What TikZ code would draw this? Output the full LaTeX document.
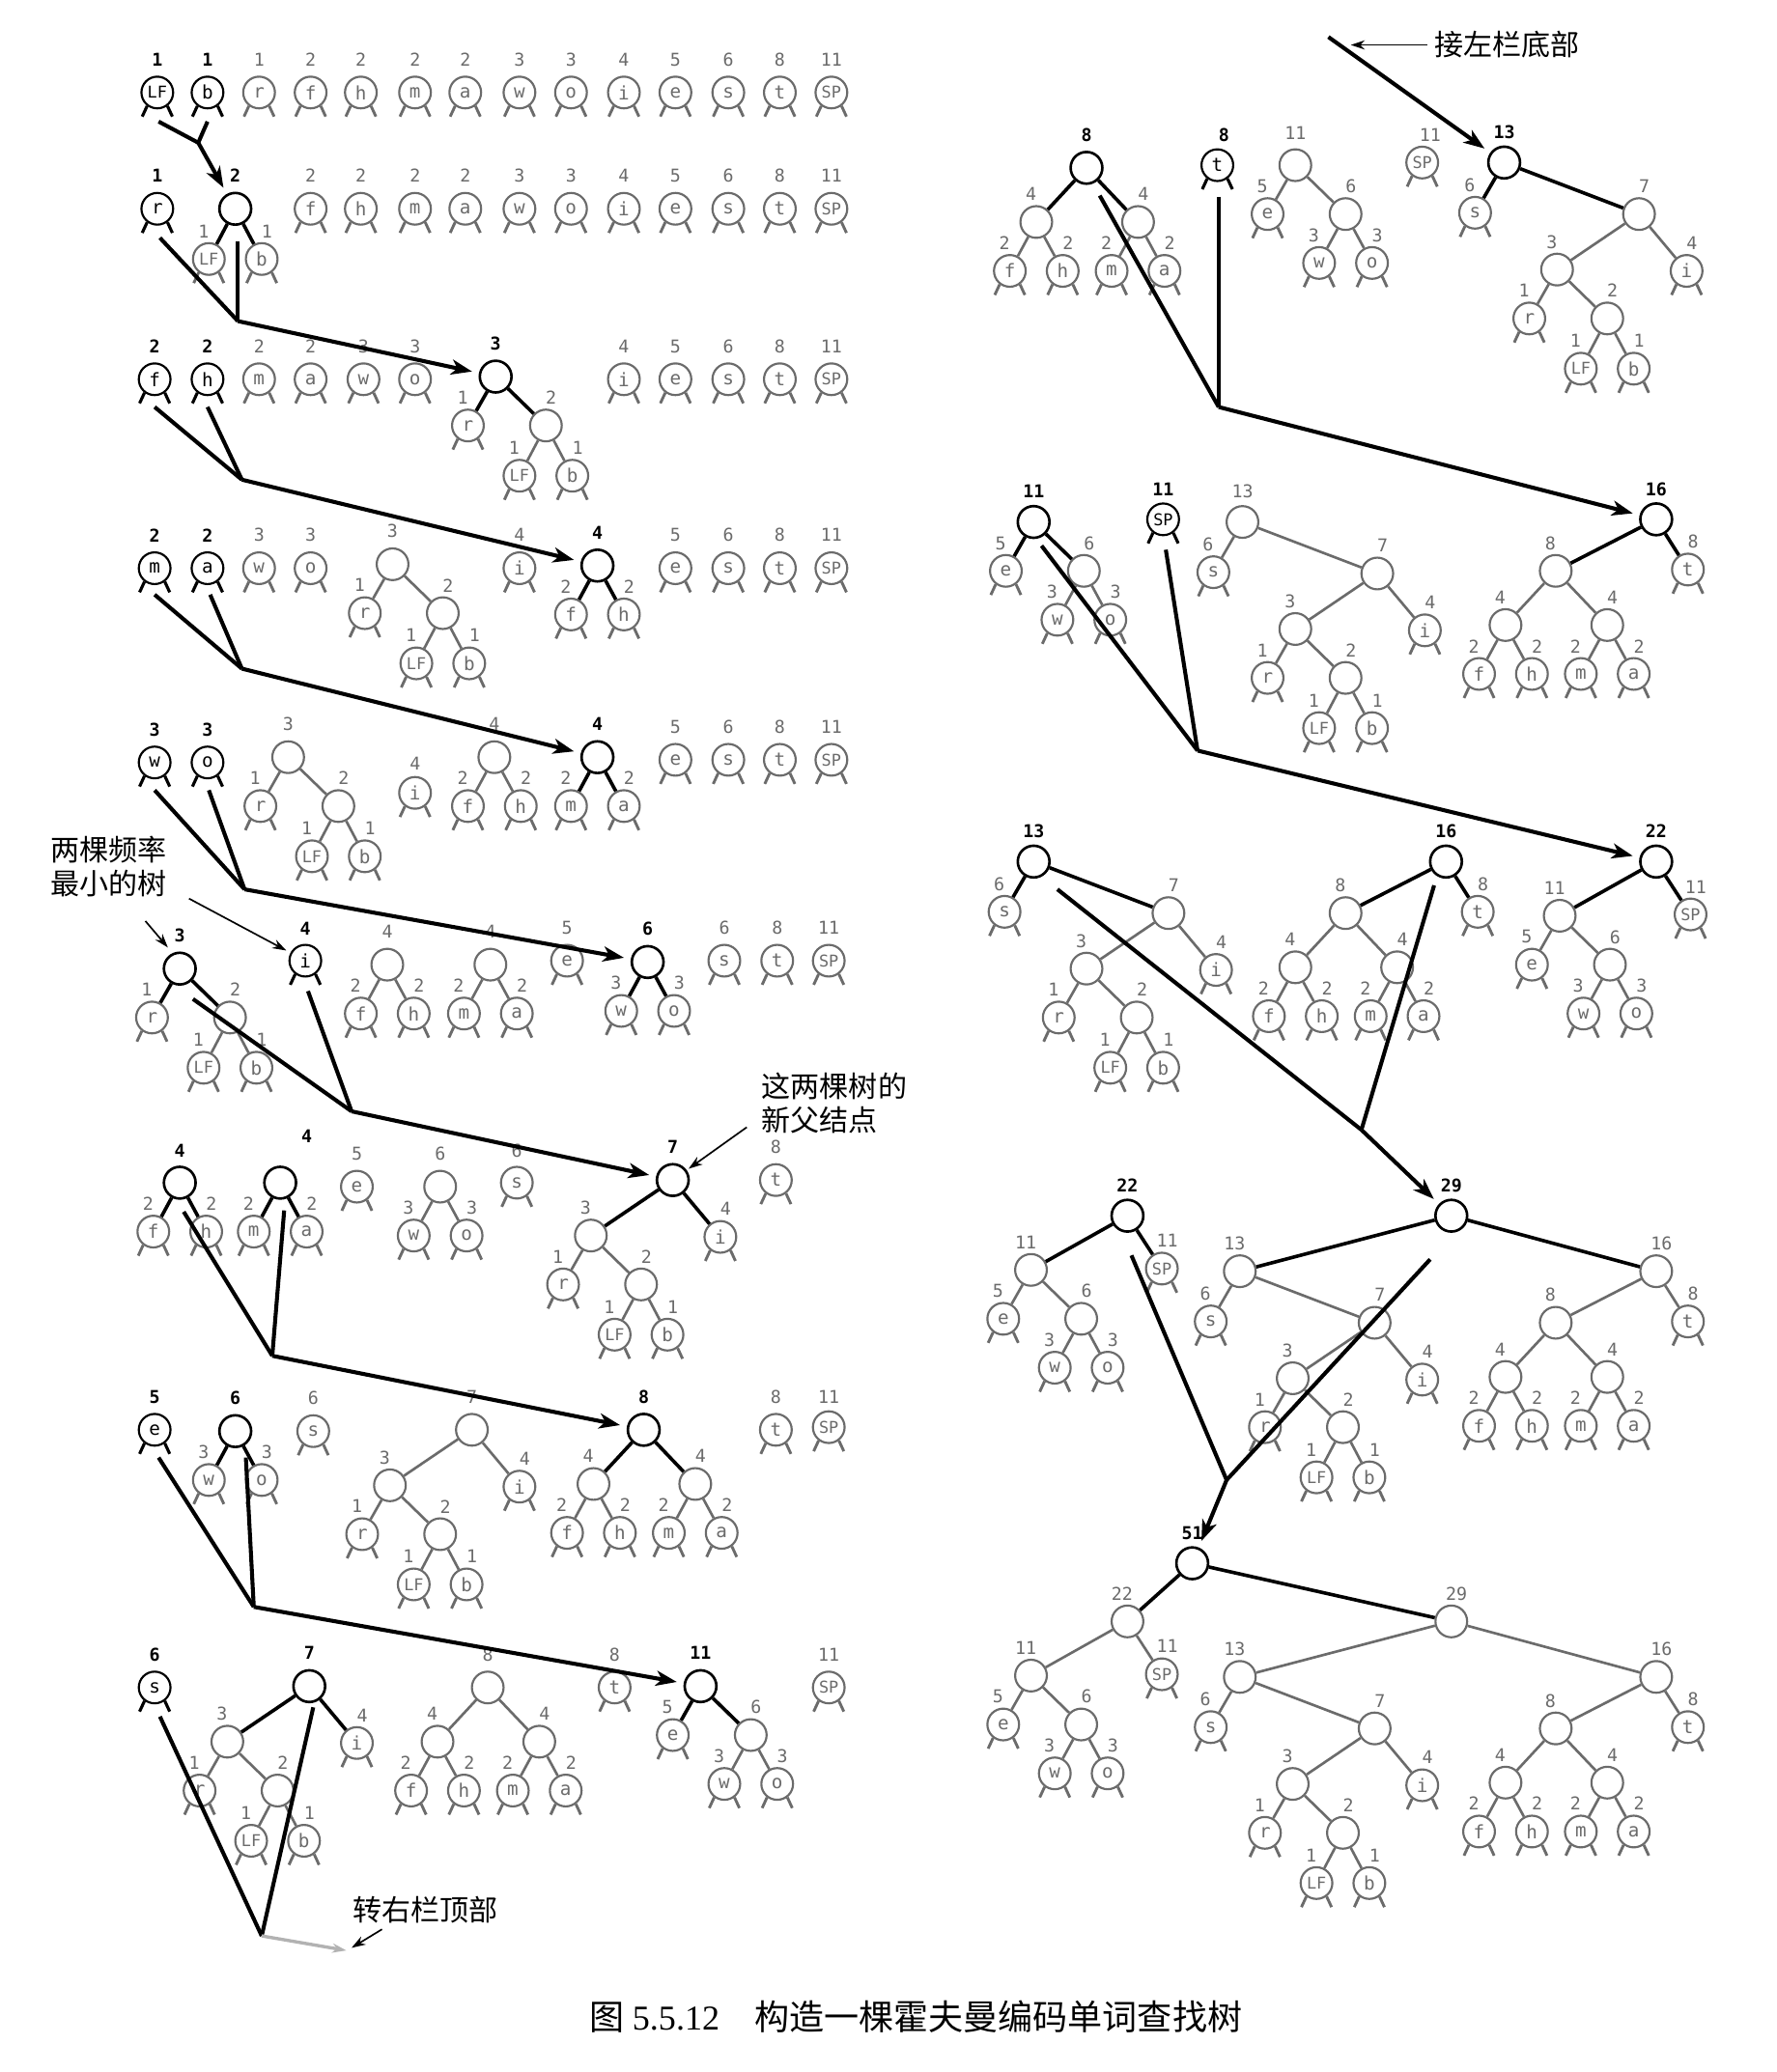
\documentclass[tikz,border=0pt]{standalone}
\usepackage{fontspec}
\setmonofont{DejaVu Sans Mono}
\newfontfamily\cjk{Noto Sans CJK SC}
\newfontfamily\capnum{Liberation Serif}
\usetikzlibrary{calc,arrows.meta}
\definecolor{gg}{gray}{0.42}
\tikzset{
  leafK/.style={circle,draw=black,line width=0.9pt,minimum size=0.48cm,inner sep=0pt,font=\ttfamily\fontsize{8}{8}\selectfont,text=black},
  leafG/.style={leafK,draw=gg,text=gg},
  innK/.style={circle,draw=black,line width=1.1pt,minimum size=0.48cm,inner sep=0pt},
  innG/.style={circle,draw=gg,line width=0.9pt,minimum size=0.48cm,inner sep=0pt},
  legK/.style={draw=black,line width=1.3pt},
  legG/.style={draw=gg,line width=1.2pt},
  edgeK/.style={draw=black,line width=1.5pt},
  edgeG/.style={draw=gg,line width=1.1pt},
  cntK/.style={font=\ttfamily\bfseries\fontsize{7.6}{7.6}\selectfont,text=black,inner sep=0pt},
  cntG/.style={font=\ttfamily\fontsize{7.6}{7.6}\selectfont,text=gg,inner sep=0pt},
  merge/.style={draw=black,line width=1.7pt},
  mergearrow/.style={merge,-{Stealth[length=9pt,width=6.5pt,inset=2.5pt]},shorten >=3pt},
  grayline/.style={draw=gray!60,line width=1.4pt,-{Stealth[length=6pt,width=4pt]}},
  note/.style={font=\cjk\fontsize{12.5}{14.5}\selectfont,inner sep=0pt,align=left},
  thinarrow/.style={draw=black,line width=0.7pt,-{Stealth[length=6pt,width=4pt]}},
}
\newcommand\LFx{{\fontsize{7}{7}\selectfont LF}}
\newcommand\SPx{{\fontsize{7}{7}\selectfont SP}}
% leaf: style name X Y letter count ldx ldy
\newcommand\Lf[8]{%
  \node[leaf#1] (#2) at ({#3},{#4}) {#5};
  \draw[leg#1] (#2.-127) -- ++(-3.7,8);
  \draw[leg#1] (#2.-53) -- ++(3.7,8);
  \node[cnt#1] (#2c) at ({#3+#7},{#4+#8}) {#6};}
% inner: style name X Y count ldx ldy
\newcommand\In[7]{%
  \node[inn#1] (#2) at ({#3},{#4}) {};
  \node[cnt#1] (#2c) at ({#3+#6},{#4+#7}) {#5};}
% trees: prefix X Y count ldx ldy style
\newcommand\Ttwo[7]{%
  \In{#7}{#1}{#2}{#3}{#4}{#5}{#6}
  \Lf{G}{#1a}{#2-20}{#3+38}{\LFx}{1}{-4}{-21}
  \Lf{G}{#1b}{#2+20}{#3+38}{b}{1}{4}{-21}
  \draw[edge#7] (#1) -- (#1a) (#1) -- (#1b);}
\newcommand\Tthree[7]{%
  \In{#7}{#1}{#2}{#3}{#4}{#5}{#6}
  \Lf{G}{#1a}{#2-21}{#3+37}{r}{1}{-4}{-21}
  \Ttwo{#1b}{#2+38}{#3+37}{2}{4}{-21}{G}
  \draw[edge#7] (#1) -- (#1a) (#1) -- (#1b);}
\newcommand\Tfour[9]{%
  \In{#7}{#1}{#2}{#3}{#4}{#5}{#6}
  \Lf{G}{#1a}{#2-20}{#3+37}{#8}{2}{-4}{-21}
  \Lf{G}{#1b}{#2+20}{#3+37}{#9}{2}{4}{-21}
  \draw[edge#7] (#1) -- (#1a) (#1) -- (#1b);}
\newcommand\Tsix[7]{%
  \In{#7}{#1}{#2}{#3}{#4}{#5}{#6}
  \Lf{G}{#1a}{#2-20}{#3+37}{w}{3}{-4}{-21}
  \Lf{G}{#1b}{#2+20}{#3+37}{o}{3}{4}{-21}
  \draw[edge#7] (#1) -- (#1a) (#1) -- (#1b);}
\newcommand\Tseven[7]{%
  \In{#7}{#1}{#2}{#3}{#4}{#5}{#6}
  \Tthree{#1a}{#2-62}{#3+42}{3}{-4}{-21}{G}
  \Lf{G}{#1b}{#2+36}{#3+43}{i}{4}{4}{-21}
  \draw[edge#7] (#1) -- (#1a) (#1) -- (#1b);}
\newcommand\Teight[7]{%
  \In{#7}{#1}{#2}{#3}{#4}{#5}{#6}
  \Tfour{#1a}{#2-38}{#3+41}{4}{-4}{-21}{G}{f}{h}
  \Tfour{#1b}{#2+39}{#3+41}{4}{4}{-21}{G}{m}{a}
  \draw[edge#7] (#1) -- (#1a) (#1) -- (#1b);}
\newcommand\Televen[7]{%
  \In{#7}{#1}{#2}{#3}{#4}{#5}{#6}
  \Lf{G}{#1a}{#2-21}{#3+37}{e}{5}{-4}{-21}
  \Tsix{#1b}{#2+38}{#3+37}{6}{4}{-21}{G}
  \draw[edge#7] (#1) -- (#1a) (#1) -- (#1b);}
\newcommand\Tthirteen[7]{%
  \In{#7}{#1}{#2}{#3}{#4}{#5}{#6}
  \Lf{G}{#1a}{#2-22}{#3+38}{s}{6}{-4}{-21}
  \Tseven{#1b}{#2+102}{#3+39}{7}{4}{-21}{G}
  \draw[edge#7] (#1) -- (#1a) (#1) -- (#1b);}
\newcommand\Tsixteen[7]{%
  \In{#7}{#1}{#2}{#3}{#4}{#5}{#6}
  \Teight{#1a}{#2-76}{#3+39}{8}{-4}{-21}{G}
  \Lf{G}{#1b}{#2+24}{#3+38}{t}{8}{4}{-21}
  \draw[edge#7] (#1) -- (#1a) (#1) -- (#1b);}
\newcommand\Ttwentytwo[7]{%
  \In{#7}{#1}{#2}{#3}{#4}{#5}{#6}
  \Televen{#1a}{#2-73}{#3+41}{11}{-4}{-21}{G}
  \Lf{G}{#1b}{#2+26}{#3+40}{\SPx}{11}{4}{-21}
  \draw[edge#7] (#1) -- (#1a) (#1) -- (#1b);}
\newcommand\Ttwentynine[7]{%
  \In{#7}{#1}{#2}{#3}{#4}{#5}{#6}
  \Tthirteen{#1a}{#2-160}{#3+42}{13}{-4}{-21}{G}
  \Tsixteen{#1b}{#2+155}{#3+42}{16}{4}{-21}{G}
  \draw[edge#7] (#1) -- (#1a) (#1) -- (#1b);}
\newcommand\Tfiftyone[7]{%
  \In{#7}{#1}{#2}{#3}{#4}{#5}{#6}
  \Ttwentytwo{#1a}{#2-49}{#3+44}{22}{-4}{-21}{G}
  \Ttwentynine{#1b}{#2+196}{#3+44}{29}{4}{-21}{G}
  \draw[edge#7] (#1) -- (#1a) (#1) -- (#1b);}

\begin{document}
\begin{tikzpicture}[x=0.02cm,y=-0.02cm]
\fill[white] (0,0) rectangle (1344,1568);
\useasboundingbox (0,0) rectangle (1344,1568);

% ---------- Row 1 ----------
\Lf{K}{a1}{119}{70}{\LFx}{1}{0}{-25}
\Lf{K}{a2}{157}{70}{b}{1}{0}{-25}
\Lf{G}{a3}{196}{70}{r}{1}{0}{-25}
\Lf{G}{a4}{235}{70}{f}{2}{0}{-25}
\Lf{G}{a5}{273}{70}{h}{2}{0}{-25}
\Lf{G}{a6}{314}{70}{m}{2}{0}{-25}
\Lf{G}{a7}{352}{70}{a}{2}{0}{-25}
\Lf{G}{a8}{393}{70}{w}{3}{0}{-25}
\Lf{G}{a9}{432}{70}{o}{3}{0}{-25}
\Lf{G}{a10}{472}{70}{i}{4}{0}{-25}
\Lf{G}{a11}{511}{70}{e}{5}{0}{-25}
\Lf{G}{a12}{551}{70}{s}{6}{0}{-25}
\Lf{G}{a13}{590}{70}{t}{8}{0}{-25}
\Lf{G}{a14}{629}{70}{\SPx}{11}{0}{-25}

% ---------- Row 2 ----------
\Lf{K}{b1}{119}{158}{r}{1}{0}{-25}
\Ttwo{b2}{178}{158}{2}{0}{-25}{K}
\Lf{G}{b3}{235}{158}{f}{2}{0}{-25}
\Lf{G}{b4}{273}{158}{h}{2}{0}{-25}
\Lf{G}{b5}{314}{158}{m}{2}{0}{-25}
\Lf{G}{b6}{352}{158}{a}{2}{0}{-25}
\Lf{G}{b7}{393}{158}{w}{3}{0}{-25}
\Lf{G}{b8}{432}{158}{o}{3}{0}{-25}
\Lf{G}{b9}{472}{158}{i}{4}{0}{-25}
\Lf{G}{b10}{511}{158}{e}{5}{0}{-25}
\Lf{G}{b11}{551}{158}{s}{6}{0}{-25}
\Lf{G}{b12}{590}{158}{t}{8}{0}{-25}
\Lf{G}{b13}{629}{158}{\SPx}{11}{0}{-25}

% ---------- Row 3 ----------
\Lf{K}{c1}{117}{287}{f}{2}{0}{-25}
\Lf{K}{c2}{157}{287}{h}{2}{0}{-25}
\Lf{G}{c3}{196}{287}{m}{2}{0}{-25}
\Lf{G}{c4}{235}{287}{a}{2}{0}{-25}
\Lf{G}{c5}{275}{287}{w}{3}{0}{-25}
\Lf{G}{c6}{314}{287}{o}{3}{0}{-25}
\Tthree{c7}{375}{285}{3}{0}{-25}{K}
\Lf{G}{c8}{472}{287}{i}{4}{0}{-25}
\Lf{G}{c9}{511}{287}{e}{5}{0}{-25}
\Lf{G}{c10}{551}{287}{s}{6}{0}{-25}
\Lf{G}{c11}{590}{287}{t}{8}{0}{-25}
\Lf{G}{c12}{629}{287}{\SPx}{11}{0}{-25}

% ---------- Row 4 ----------
\Lf{K}{d1}{117}{430}{m}{2}{0}{-25}
\Lf{K}{d2}{157}{430}{a}{2}{0}{-25}
\Lf{G}{d3}{196}{430}{w}{3}{0}{-25}
\Lf{G}{d4}{235}{430}{o}{3}{0}{-25}
\Tthree{d5}{297}{427}{3}{0}{-25}{G}
\Lf{G}{d6}{393}{430}{i}{4}{0}{-25}
\Tfour{d7}{452}{428}{4}{0}{-25}{K}{f}{h}
\Lf{G}{d8}{511}{430}{e}{5}{0}{-25}
\Lf{G}{d9}{551}{430}{s}{6}{0}{-25}
\Lf{G}{d10}{590}{430}{t}{8}{0}{-25}
\Lf{G}{d11}{629}{430}{\SPx}{11}{0}{-25}

% ---------- Row 5 ----------
\Lf{K}{e1}{117}{577}{w}{3}{0}{-25}
\Lf{K}{e2}{157}{577}{o}{3}{0}{-25}
\Tthree{e3}{218}{573}{3}{0}{-25}{G}
\Lf{G}{e4}{314}{600}{i}{4}{0}{-22}
\Tfour{e5}{374}{573}{4}{0}{-25}{G}{f}{h}
\Tfour{e6}{452}{573}{4}{0}{-25}{K}{m}{a}
\Lf{G}{e7}{511}{575}{e}{5}{0}{-25}
\Lf{G}{e8}{551}{575}{s}{6}{0}{-25}
\Lf{G}{e9}{590}{575}{t}{8}{0}{-25}
\Lf{G}{e10}{629}{575}{\SPx}{11}{0}{-25}

% ---------- Row 6 ----------
\Tthree{f1}{136}{733}{3}{0}{-25}{K}
\Lf{K}{f2}{231}{727}{i}{4}{0}{-24}
\Tfour{f3}{293}{730}{4}{0}{-25}{G}{f}{h}
\Tfour{f4}{371}{730}{4}{0}{-25}{G}{m}{a}
\Lf{G}{f5}{429}{727}{e}{5}{0}{-25}
\Tsix{f6}{490}{728}{6}{0}{-25}{K}
\Lf{G}{f7}{548}{727}{s}{6}{0}{-25}
\Lf{G}{f8}{588}{727}{t}{8}{0}{-25}
\Lf{G}{f9}{627}{727}{\SPx}{11}{0}{-25}

% ---------- Row 7 ----------
\Tfour{g1}{136}{895}{4}{0}{-24}{K}{f}{h}
\Tfour{g2}{212}{895}{4}{20}{-35}{K}{m}{a}
\Lf{G}{g3}{270}{898}{e}{5}{0}{-25}
\Tsix{g4}{333}{898}{6}{0}{-25}{G}
\Lf{G}{g5}{391}{895}{s}{6}{0}{-24}
\Tseven{g6}{509}{893}{7}{0}{-25}{K}
\Lf{G}{g7}{587}{893}{t}{8}{0}{-25}

% ---------- Row 8 ----------
\Lf{K}{h1}{117}{1082}{e}{5}{0}{-25}
\Tsix{h2}{178}{1083}{6}{0}{-25}{K}
\Lf{G}{h3}{237}{1083}{s}{6}{0}{-25}
\Tseven{h4}{357}{1082}{7}{0}{-25}{G}
\Teight{h5}{487}{1082}{8}{0}{-25}{K}
\Lf{G}{h6}{587}{1082}{t}{8}{0}{-25}
\Lf{G}{h7}{627}{1080}{\SPx}{11}{0}{-23}

% ---------- Row 9 ----------
\Lf{K}{i1}{117}{1277}{s}{6}{0}{-25}
\Tseven{i2}{234}{1276}{7}{0}{-25}{K}
\Teight{i3}{369}{1277}{8}{0}{-25}{G}
\Lf{G}{i4}{465}{1277}{t}{8}{0}{-25}
\Televen{i5}{530}{1276}{11}{0}{-25}{K}
\Lf{G}{i6}{627}{1277}{\SPx}{11}{0}{-25}

% ---------- Right column ----------
\Teight{p1}{822}{127}{8}{0}{-25}{K}
\Lf{K}{p2}{921}{125}{t}{8}{5}{-23}
\Televen{p3}{980}{125}{11}{0}{-24}{G}
\Lf{G}{p4}{1076}{123}{\SPx}{11}{6}{-21}
\Tthirteen{p5}{1138}{123}{13}{0}{-23}{K}

\Televen{q1}{782}{395}{11}{0}{-23}{K}
\Lf{K}{q2}{880}{393}{\SPx}{11}{0}{-23}
\Tthirteen{q3}{940}{395}{13}{0}{-23}{G}
\Tsixteen{q4}{1253}{393}{16}{0}{-23}{K}

\Tthirteen{r1}{782}{652}{13}{0}{-23}{K}
\Tsixteen{r2}{1094}{652}{16}{0}{-23}{K}
\Ttwentytwo{r3}{1253}{652}{22}{0}{-23}{K}

\Ttwentytwo{s1}{853}{920}{22}{0}{-23}{K}
\Ttwentynine{s2}{1098}{920}{29}{0}{-23}{K}

\Tfiftyone{t1}{902}{1183}{51}{0}{-23}{K}

% ---------- Merge connectors ----------
\coordinate (m1s) at (120,92); \coordinate (m1t) at (157,92); \coordinate (m1j) at (150,108);
\draw[merge] (m1s) -- (m1j); \draw[merge] (m1t) -- (m1j); \draw[mergearrow] (m1j) -- (b2);

\coordinate (m2s) at (121,180); \coordinate (m2t) at (180,183); \coordinate (m2j) at (180,243);
\draw[merge] (m2s) -- (m2j); \draw[merge] (m2t) -- (m2j); \draw[mergearrow] (m2j) -- (c7);

\coordinate (m3s) at (117,308); \coordinate (m3t) at (157,308); \coordinate (m3j) at (183,363);
\draw[merge] (m3s) -- (m3j); \draw[merge] (m3t) -- (m3j); \draw[mergearrow] (m3j) -- (d7);

\coordinate (m4s) at (117,450); \coordinate (m4t) at (159,450); \coordinate (m4j) at (183,506);
\draw[merge] (m4s) -- (m4j); \draw[merge] (m4t) -- (m4j); \draw[mergearrow] (m4j) -- (e6);

\coordinate (m5s) at (117,598); \coordinate (m5t) at (158,598); \coordinate (m5j) at (185,673);
\draw[merge] (m5s) -- (m5j); \draw[merge] (m5t) -- (m5j); \draw[mergearrow] (m5j) -- (f6);

\coordinate (m6s) at (146,756); \coordinate (m6t) at (233,750); \coordinate (m6j) at (266,841);
\draw[merge] (m6s) -- (m6j); \draw[merge] (m6t) -- (m6j); \draw[mergearrow] (m6j) -- (g6);

\coordinate (m7s) at (139,917); \coordinate (m7t) at (215,916); \coordinate (m7j) at (206,1026);
\draw[merge] (m7s) -- (m7j); \draw[merge] (m7t) -- (m7j); \draw[mergearrow] (m7j) -- (h5);

\coordinate (m8s) at (120,1103); \coordinate (m8t) at (186,1103); \coordinate (m8j) at (192,1216);
\draw[merge] (m8s) -- (m8j); \draw[merge] (m8t) -- (m8j); \draw[mergearrow] (m8j) -- (i5);

\coordinate (m9s) at (121,1299); \coordinate (m9t) at (237,1292); \coordinate (m9j) at (198,1465);
\coordinate (m9e) at (262,1476);
\draw[merge] (m9s) -- (m9j); \draw[merge] (m9t) -- (m9j);
\draw[grayline] (m9j) -- (m9e);

\coordinate (mas) at (832,148); \coordinate (mat) at (922,149); \coordinate (maj) at (922,308);
\draw[merge] (mas) -- (maj); \draw[merge] (mat) -- (maj); \draw[mergearrow] (maj) -- (q4);

\coordinate (mbs) at (788,413); \coordinate (mbt) at (882,416); \coordinate (mbj) at (906,568);
\draw[merge] (mbs) -- (mbj); \draw[merge] (mbt) -- (mbj); \draw[mergearrow] (mbj) -- (r3);

\coordinate (mcs) at (800,673); \coordinate (mct) at (1085,670); \coordinate (mcj) at (1030,855);
\draw[merge] (mcs) -- (mcj); \draw[merge] (mct) -- (mcj); \draw[mergearrow] (mcj) -- (s2);

\coordinate (mds) at (856,950); \coordinate (mdt) at (1082,953); \coordinate (mdj) at (928,1120);
\draw[merge] (mds) -- (mdj); \draw[merge] (mdt) -- (mdj); \draw[mergearrow] (mdj) -- (t1);

% top arrow of right column
\coordinate (top1) at (1005,28);
\draw[mergearrow] (top1) -- (p5);

% ---------- Annotations ----------
\node[note] (n1) at (82,656) {两棵频率\\最小的树};
\coordinate (n1p) at (110,697); \coordinate (n1q) at (127,717);
\draw[thinarrow] (n1p) -- (n1q);
\coordinate (n1r) at (143,680);
\draw[thinarrow,shorten >=2pt] (n1r) -- (f2);

\node[note,anchor=west] (n2) at (576,835) {这两棵树的\\新父结点};
\coordinate (n2p) at (565,853);
\draw[thinarrow,shorten >=1pt] (n2p) -- (g6);

\node[note] (n3) at (322,1445) {转右栏顶部};
\coordinate (n3p) at (289,1460); \coordinate (n3q) at (266,1474);
\draw[thinarrow] (n3p) -- (n3q);

\node[note,anchor=west] (n4) at (1085,34) {接左栏底部};
\coordinate (n4t) at (1022,34);
\draw[thinarrow] ([xshift=-3pt]n4.west) -- (n4t);

\node[font=\cjk\fontsize{15}{15}\selectfont,inner sep=0pt] (cap) at (693,1526) {图 {\capnum 5.5.12}\hspace{1em}构造一棵霍夫曼编码单词查找树};
\end{tikzpicture}
\end{document}
